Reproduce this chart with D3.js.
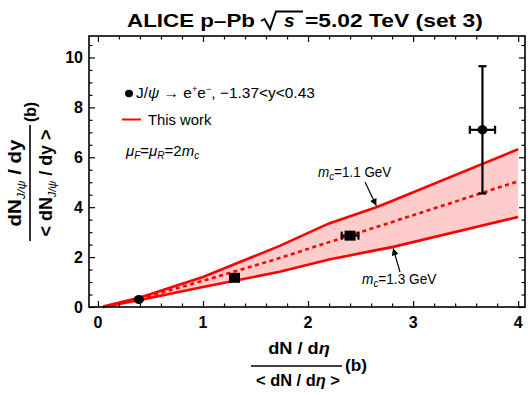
<!DOCTYPE html>
<html><head><meta charset="utf-8">
<script src="https://cdn.jsdelivr.net/npm/d3@7"></script>
<style>body{margin:0;background:#fff}svg{display:block}text{font-family:"Liberation Sans",Arial,sans-serif}</style>
</head><body>
<svg id="c" width="528" height="395"></svg>
<script>
// ---- data ----
const bandX   = [0.05, 0.4, 1.0, 1.73, 2.2, 2.65, 2.81, 4.0];
const upperMc11 = [0.02, 0.38, 1.2, 2.45, 3.35, 4.0, 4.27, 6.32];
const centralY  = [0.0, 0.33, 1.05, 1.96, 2.6, 3.2, 3.42, 5.04];
const lowerMc13 = [0.0, 0.28, 0.8, 1.41, 1.9, 2.28, 2.41, 3.61];
const dataX    = [0.39, 1.30, 2.40, 3.66];
const dataY    = [0.30, 1.17, 2.86, 7.10];
const dataXerr = [0.0, 0.0, 0.08, 0.12];
const dataYlo  = [0.0, 0.0, 0.12, 2.55];
const dataYhi  = [0.0, 0.0, 0.12, 2.55];
const dataShape = ["circle", "square", "square", "circle"];
const xTicks = [0, 1, 2, 3, 4];
const yTicks = [0, 2, 4, 6, 8, 10];

const svg = d3.select("#c");
const x = d3.scaleLinear().domain([-0.085, 4.065]).range([89, 525]);
const y = d3.scaleLinear().domain([0, 10.86]).range([307, 36]);
const red = "#ff0000";

// stretch a text horizontally to a target width
function fit(sel, target, anchor){
  const n = sel.node(); const b = n.getBBox();
  const s = target / b.width;
  const ax = anchor === "middle" ? b.x + b.width/2 : b.x;
  sel.attr("transform", `translate(${ax},0) scale(${s},1) translate(${-ax},0)`);
}

// band
const band = bandX.map((v,i)=>({x:v, lo:lowerMc13[i], hi:upperMc11[i], c:centralY[i]}));
svg.append("path").datum(band)
  .attr("d", d3.area().x(d=>x(d.x)).y0(d=>y(d.lo)).y1(d=>y(d.hi)))
  .attr("fill", "#ffcccc");
const line = k => d3.line().x(d=>x(d.x)).y(d=>y(d[k]));
svg.append("path").datum(band).attr("d", line("hi")).attr("fill","none").attr("stroke",red).attr("stroke-width",2.6);
svg.append("path").datum(band).attr("d", line("lo")).attr("fill","none").attr("stroke",red).attr("stroke-width",2.6);
svg.append("path").datum(band).attr("d", line("c")).attr("fill","none").attr("stroke",red).attr("stroke-width",2.6).attr("stroke-dasharray","4,3.5");

// axes (ticks inside, on all four sides)
function ticksGroup(axis, tr){
  const g = svg.append("g").attr("transform", tr).call(axis);
  g.select(".domain").remove();
  g.selectAll("text").remove();
  g.selectAll("line").attr("stroke","#000").attr("stroke-width",1.2);
  return g;
}
const xMinor = d3.range(0, 4.01, 0.2).filter(v=>Math.abs(v-Math.round(v))>1e-6);
const yMinor = d3.range(0.5, 10.9, 0.5).filter(v=>Math.abs(v/2-Math.round(v/2))>1e-6);
ticksGroup(d3.axisTop(x).tickValues(xTicks).tickSize(6), "translate(0,307)");
ticksGroup(d3.axisTop(x).tickValues(xMinor).tickSize(3.5), "translate(0,307)");
ticksGroup(d3.axisBottom(x).tickValues(xTicks).tickSize(6), "translate(0,36)");
ticksGroup(d3.axisBottom(x).tickValues(xMinor).tickSize(3.5), "translate(0,36)");
ticksGroup(d3.axisRight(y).tickValues(yTicks).tickSize(6), "translate(89,0)");
ticksGroup(d3.axisRight(y).tickValues(yMinor).tickSize(3.5), "translate(89,0)");
ticksGroup(d3.axisLeft(y).tickValues(yTicks).tickSize(6), "translate(525,0)");
ticksGroup(d3.axisLeft(y).tickValues(yMinor).tickSize(3.5), "translate(525,0)");
svg.append("rect").attr("x",89).attr("y",36).attr("width",436).attr("height",271)
  .attr("fill","none").attr("stroke","#000").attr("stroke-width",1.6);

// tick labels
svg.append("g").selectAll("text").data(xTicks).join("text")
  .attr("x", d=>x(d)).attr("y", 328).attr("text-anchor","middle")
  .attr("font-size",16).attr("font-weight","bold").text(d=>d);
svg.append("g").selectAll("text").data(yTicks).join("text")
  .attr("x", 83).attr("y", d=>y(d)+6).attr("text-anchor","end")
  .attr("font-size",16).attr("font-weight","bold").text(d=>d);

// data points
const pts = dataX.map((v,i)=>({x:v,y:dataY[i],xe:dataXerr[i],lo:dataYlo[i],hi:dataYhi[i],s:dataShape[i]}));
const pg = svg.append("g").attr("stroke","#000").attr("stroke-width",2.2);
pts.forEach(p=>{
  if(p.xe>0){
    pg.append("line").attr("x1",x(p.x-p.xe)).attr("x2",x(p.x+p.xe)).attr("y1",y(p.y)).attr("y2",y(p.y));
    [p.x-p.xe,p.x+p.xe].forEach(e=>pg.append("line").attr("x1",x(e)).attr("x2",x(e)).attr("y1",y(p.y)-4).attr("y2",y(p.y)+4));
  }
  if(p.hi>0){
    pg.append("line").attr("x1",x(p.x)).attr("x2",x(p.x)).attr("y1",y(p.y-p.lo)).attr("y2",y(p.y+p.hi));
    [p.y-p.lo,p.y+p.hi].forEach(e=>pg.append("line").attr("x1",x(p.x)-4).attr("x2",x(p.x)+4).attr("y1",y(e)).attr("y2",y(e)));
  }
  if(p.s==="circle") svg.append("ellipse").attr("cx",x(p.x)).attr("cy",y(p.y)).attr("rx",5).attr("ry",4.6).attr("fill","#000");
  else svg.append("rect").attr("x",x(p.x)-5.5).attr("y",y(p.y)-5).attr("width",11).attr("height",10).attr("fill","#000");
});

// legend
svg.append("ellipse").attr("cx",129).attr("cy",93.5).attr("rx",4).attr("ry",3.7).attr("fill","#000");
const lt = svg.append("text").attr("x",136).attr("y",98.5).attr("font-size",15);
lt.append("tspan").text("J/");
lt.append("tspan").attr("font-style","italic").text("ψ");
lt.append("tspan").text(" → e");
lt.append("tspan").attr("font-size",9).attr("dy",-6).text("+");
lt.append("tspan").attr("dy",6).text("e");
lt.append("tspan").attr("font-size",9).attr("dy",-6).text("−");
lt.append("tspan").attr("dy",6).text(", −1.37<y<0.43");
fit(lt, 179, "start");
svg.append("line").attr("x1",122).attr("x2",141).attr("y1",119.5).attr("y2",119.5).attr("stroke",red).attr("stroke-width",2);
const tw = svg.append("text").attr("x",148).attr("y",125).attr("font-size",15).text("This work");
fit(tw, 64, "start");
const mu = svg.append("text").attr("x",126).attr("y",156).attr("font-size",15);
mu.append("tspan").attr("font-style","italic").text("μ");
mu.append("tspan").attr("font-style","italic").attr("font-size",10).attr("dy",3).text("F");
mu.append("tspan").attr("dy",-3).text("=");
mu.append("tspan").attr("font-style","italic").text("μ");
mu.append("tspan").attr("font-style","italic").attr("font-size",10).attr("dy",3).text("R");
mu.append("tspan").attr("dy",-3).text("=2");
mu.append("tspan").attr("font-style","italic").text("m");
mu.append("tspan").attr("font-style","italic").attr("font-size",10).attr("dy",3).text("c");

// annotations
function mcLabel(tx, ty, val, w){
  const t = svg.append("text").attr("x",tx).attr("y",ty).attr("font-size",14);
  t.append("tspan").attr("font-style","italic").text("m");
  t.append("tspan").attr("font-style","italic").attr("font-size",10).attr("dy",3).text("c");
  t.append("tspan").attr("dy",-3).text("="+val+" GeV");
  fit(t, w, "start");
}
mcLabel(318, 177, "1.1", 74);
mcLabel(362, 284, "1.3", 75);
svg.append("defs").append("marker").attr("id","ah").attr("viewBox","0 0 10 10").attr("refX",10).attr("refY",5)
  .attr("markerWidth",7).attr("markerHeight",7).attr("markerUnits","userSpaceOnUse").attr("orient","auto")
  .append("path").attr("d","M0,0L10,5L0,10z").attr("fill","#000");
svg.append("line").attr("x1",365).attr("y1",182).attr("x2",x(2.65)).attr("y2",y(4.0)-1.5)
  .attr("stroke","#000").attr("stroke-width",1.2).attr("marker-end","url(#ah)");
svg.append("line").attr("x1",400).attr("y1",272).attr("x2",x(2.81)).attr("y2",y(2.41)+1.5)
  .attr("stroke","#000").attr("stroke-width",1.2).attr("marker-end","url(#ah)");

// title
const t1 = svg.append("text").attr("x",127).attr("y",27).attr("font-size",18).attr("font-weight","bold").text("ALICE p–Pb");
fit(t1, 128, "start");
svg.append("path").attr("d","M261,21 L264.5,19 L270,29 L276,11.5 H303")
  .attr("fill","none").attr("stroke","#000").attr("stroke-width",2);
svg.append("text").attr("x",284).attr("y",27).attr("font-size",19).attr("font-weight","bold").attr("font-style","italic").text("s");
const t2 = svg.append("text").attr("x",305).attr("y",27).attr("font-size",18).attr("font-weight","bold").text("=5.02 TeV (set 3)");
fit(t2, 178, "start");

// y-axis label (rotated fraction)
const yl = svg.append("g").attr("transform","translate(30,183) rotate(-90)").attr("font-weight","bold");
const yn = yl.append("text").attr("x",0).attr("y",-9).attr("text-anchor","middle").attr("font-size",18);
yn.append("tspan").text("dN");
yn.append("tspan").attr("font-size",11).attr("font-style","italic").attr("font-weight","normal").attr("dy",4).text("J/ψ");
yn.append("tspan").attr("dy",-4).text(" / dy");
fit(yn, 87, "middle");
yl.append("line").attr("x1",-58).attr("x2",58).attr("y1",0).attr("y2",0).attr("stroke","#000").attr("stroke-width",1.6);
const yd = yl.append("text").attr("x",0).attr("y",22).attr("text-anchor","middle").attr("font-size",18);
yd.append("tspan").text("< dN");
yd.append("tspan").attr("font-size",11).attr("font-style","italic").attr("font-weight","normal").attr("dy",4).text("J/ψ");
yd.append("tspan").attr("dy",-4).text(" / dy >");
fit(yd, 107, "middle");
const yb = yl.append("text").attr("x",71).attr("y",6).attr("text-anchor","middle").attr("font-size",17).text("(b)");
fit(yb, 20, "middle");

// x-axis label
const xl = svg.append("g").attr("font-weight","bold").attr("font-size",16);
const xn = xl.append("text").attr("x",299).attr("y",354).attr("text-anchor","middle");
xn.append("tspan").text("dN / d");
xn.append("tspan").attr("font-style","italic").text("η");
fit(xn, 62, "middle");
xl.append("line").attr("x1",251).attr("x2",342).attr("y1",366).attr("y2",366).attr("stroke","#000").attr("stroke-width",1.6);
const xd = xl.append("text").attr("x",298).attr("y",386).attr("text-anchor","middle");
xd.append("tspan").text("< dN / d");
xd.append("tspan").attr("font-style","italic").text("η");
xd.append("tspan").text(" >");
fit(xd, 84, "middle");
const xb = xl.append("text").attr("x",345).attr("y",371).text("(b)");
fit(xb, 22, "start");
</script>
</body></html>
